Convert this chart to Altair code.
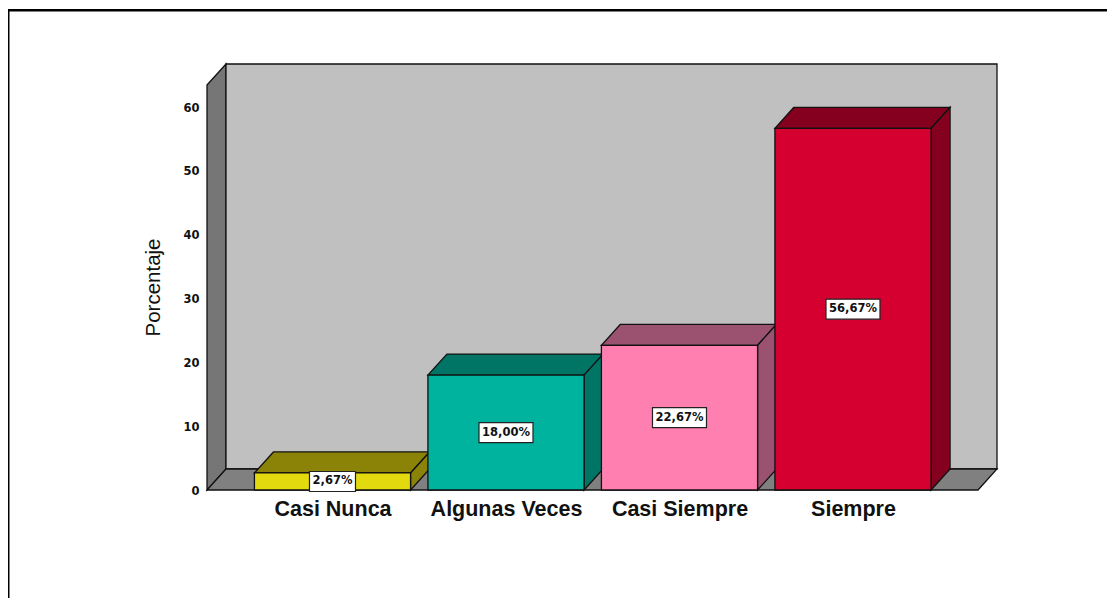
import json
import altair as alt

categories = ["Casi Nunca", "Algunas Veces", "Casi Siempre", "Siempre"]
values = [2.67, 18.00, 22.67, 56.67]
labels = ["2,67%", "18,00%", "22,67%", "56,67%"]
front_colors = ["#E3D90F", "#00B39F", "#FF80B0", "#D60030"]
dark_colors = ["#8B8307", "#007566", "#9A5270", "#85001E"]
y_ticks = [0, 10, 20, 30, 40, 50, 60]

# axis-unit geometry of the 3D box
DX, DY = 0.1095, 3.29
HALF = 0.45
X0, X1 = -0.7233, 3.83
YTOP_BACK = 66.74
YTOP_FRONT = YTOP_BACK - DY

x_scale = alt.Scale(domain=[X0, X1], nice=False, zero=False)
y_scale = alt.Scale(domain=[0, YTOP_BACK], nice=False, zero=False)
x_axis = alt.Axis(
    values=[0, 1, 2, 3], domain=False, ticks=False, grid=False,
    labelExpr=f"{json.dumps(categories)}[datum.value]",
    labelFont="Liberation Sans", labelFontWeight="bold", labelFontSize=21.5,
    labelColor="#111111", labelPadding=8, labelFlush=False, labelOverlap=False)
y_axis = alt.Axis(
    values=y_ticks, domain=False, ticks=False, grid=False,
    labelFont="DejaVu Sans", labelFontWeight="bold", labelFontSize=11.5,
    labelColor="#111111", labelPadding=8, labelOffset=1,
    titleFont="Liberation Sans", titleFontWeight="normal", titleFontSize=20.5,
    titleColor="#111111", titleX=-44, titleY=223)
X = alt.X("x:Q", scale=x_scale, axis=x_axis, title=None)
Y = alt.Y("y:Q", scale=y_scale, axis=y_axis, title="Porcentaje")
STROKE = dict(stroke="#111111", strokeWidth=1.3)


def df(rows):
    return alt.Data(values=rows)


def side(xa, xb, ya, yb, ya0, yb0, color):
    return alt.Chart(df([
        {"x": xa, "y": ya, "y0": ya0},
        {"x": xb, "y": yb, "y0": yb0},
    ])).mark_area(color=color, line=False, **STROKE).encode(x=X, y=Y, y2="y0:Q")


def flat(xa, xb, ya, yb, w, color):
    return alt.Chart(df([
        {"x": xa, "x0": xa + w, "y": ya},
        {"x": xb, "x0": xb + w, "y": yb},
    ])).mark_area(color=color, orient="horizontal", **STROKE).encode(x=X, x2="x0:Q", y=Y)


layers = []

# walls and floor
layers.append(side(X0, X0 + DX, YTOP_FRONT, YTOP_BACK, 0, DY, "#767676"))
layers.append(alt.Chart(df([{"x": X0 + DX, "x0": X1, "y": DY, "y0": YTOP_BACK}]))
              .mark_rect(color="#C0C0C0", **STROKE)
              .encode(x=X, x2="x0:Q", y=Y, y2="y0:Q"))
layers.append(flat(X0, X0 + DX, 0, DY, X1 - X0 - DX, "#808080"))

# bars
for i, v in enumerate(values):
    left, right = i - HALF, i + HALF
    layers.append(flat(left, left + DX, v, v + DY, right - left, dark_colors[i]))
    layers.append(side(right, right + DX, v, v + DY, 0, DY, dark_colors[i]))
    layers.append(alt.Chart(df([{"x": left, "x0": right, "y": v, "y0": 0}]))
                  .mark_rect(color=front_colors[i], **STROKE)
                  .encode(x=X, x2="x0:Q", y=Y, y2="y0:Q"))

# value labels
for i, (v, t) in enumerate(zip(values, labels)):
    row = df([{"x": i, "y": v / 2, "t": t}])
    w = 46 if i == 0 else 54
    layers.append(alt.Chart(row).mark_rect(
        width=w, height=20, color="white", stroke="#222222", strokeWidth=1.2
    ).encode(x=X, y=Y))
    layers.append(alt.Chart(row).mark_text(
        font="DejaVu Sans", fontWeight="bold", fontSize=11.5, color="#111111",
        align="center", baseline="middle"
    ).encode(x=X, y=Y, text="t:N"))

# outer frame (only its top and left edges fall inside the picture)
layers.append(alt.Chart(df([{"k": 1}])).mark_rule(color="black", strokeWidth=3).encode(
    x=alt.value(-199), y=alt.value(-54), y2=alt.value(540)))
layers.append(alt.Chart(df([{"k": 1}])).mark_rule(color="black", strokeWidth=2.4).encode(
    x=alt.value(-199), x2=alt.value(910), y=alt.value(-53.7)))

chart = alt.layer(*layers).properties(
    width=790, height=426,
    padding={"left": 199, "top": 56, "right": 110, "bottom": 108},
    autosize=alt.AutoSizeParams(type="none"),
    background="white",
).configure_view(stroke=None)

chart.save("out.html", embed_options={"renderer": "svg", "actions": False})
